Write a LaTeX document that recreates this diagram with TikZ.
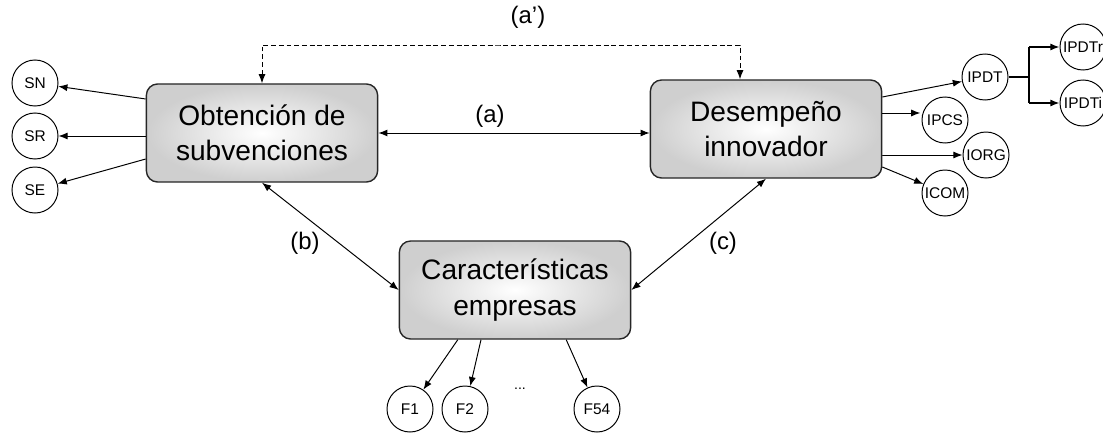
\documentclass[tikz,border=0pt]{standalone}
\usepackage{fontspec}
\setmainfont{Liberation Sans}
\usetikzlibrary{arrows.meta,positioning}

\begin{document}
\begin{tikzpicture}[>={Latex[length=6.5pt,width=5pt]},x=0.025cm,y=-0.025cm]
  \tikzset{
    bigbox/.style={draw=black!85, line width=1pt, rounded corners=8pt,
      inner color=white, outer color=gray!38,
      minimum width=5.78cm, minimum height=2.45cm, align=center,
      font=\fontsize{20}{25}\selectfont},
    var/.style={circle, draw, line width=0.7pt, minimum size=1.15cm, inner sep=0pt,
      label={[font=\fontsize{11}{12}\selectfont]center:#1}},
    rel/.style={font=\fontsize{17}{20}\selectfont}
  }
  \useasboundingbox (0,0) rectangle (1103,433);

  % main boxes
  \node[bigbox] (obt) at (262,133) {Obtención de\\subvenciones};
  \node[bigbox] (des) at (766,129) {Desempeño\\innovador};
  \node[bigbox] (car) at (515,290) {Características\\empresas};

  % indicators
  \node[var=SN] (sn) at (35,83) {};
  \node[var=SR] (sr) at (35,136) {};
  \node[var=SE] (se) at (35,190) {};

  \node[var=IPDT] (ipdt) at (985,77) {};
  \node[var=IPCS] (ipcs) at (945,120) {};
  \node[var=IORG] (iorg) at (986,155) {};
  \node[var=ICOM] (icom) at (945,193) {};
  \node[var=IPDTr] (ipdtr) at (1083,47) {};
  \node[var=IPDTi] (ipdti) at (1083,103) {};

  \node[var=F1] (f1) at (410,409) {};
  \node[var=F2] (f2) at (465,409) {};
  \node[var=F54] (f54) at (597,409) {};
  \node[font=\fontsize{10}{12}\selectfont] (dots) at (520,389) {...};

  % relations
  \coordinate (top) at (500,45);
  \draw[<->, dashed, dash pattern=on 3.5pt off 2pt, line width=0.7pt]
    (obt.north) |- (top) -| ([xshift=-0.65cm]des.north);
  \draw[<->, line width=0.7pt] (obt.east) -- (obt.east -| des.west);
  \draw[<->, line width=0.7pt] (obt.south) -- (car.west);
  \draw[<->, line width=0.7pt] (des.south) -- (car.east);

  \node[rel] (la') at (528,17) {(a’)};
  \node[rel] (la) at (490,116) {(a)};
  \node[rel] (lb) at (305,243) {(b)};
  \node[rel] (lc) at (723,243) {(c)};

  % measurement arrows
  \draw[->, line width=0.7pt] ([yshift=0.85cm]obt.west) -- (sn);
  \draw[->, line width=0.7pt] (obt.west |- sr) -- (sr);
  \draw[->, line width=0.7pt] ([yshift=-0.65cm]obt.west) -- (se);

  \draw[->, line width=0.7pt] ([yshift=0.8cm]des.east) -- (ipdt);
  \draw[->, line width=0.7pt] ([yshift=0.4cm]des.east) -- ++(0.95cm,0);
  \draw[->, line width=0.7pt] ([yshift=-0.65cm]des.east) -- (des.east |- iorg.west) -- (iorg.west);
  \draw[->, line width=0.7pt] ([yshift=-0.95cm]des.east) -- (icom);

  \coordinate (fork) at (1029,77);
  \draw[line width=1.3pt] (ipdt.east) -- (fork);
  \draw[line width=1.3pt] (fork |- ipdtr) -- (fork |- ipdti);
  \draw[->, line width=0.9pt] (fork |- ipdtr) -- (ipdtr);
  \draw[->, line width=0.9pt] (fork |- ipdti) -- (ipdti);

  \draw[->, line width=0.7pt] ([xshift=-1.43cm]car.south) -- (f1);
  \draw[->, line width=0.7pt] ([xshift=-0.85cm]car.south) -- (f2);
  \draw[->, line width=0.7pt] ([xshift=1.28cm]car.south) -- (f54);
\end{tikzpicture}
\end{document}
